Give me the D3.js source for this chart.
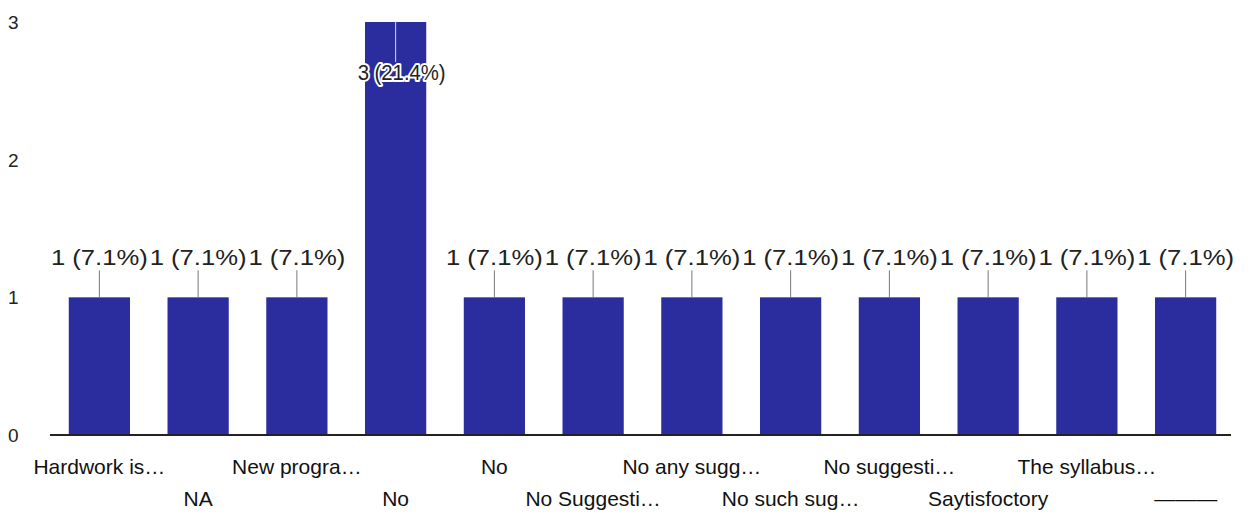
<!DOCTYPE html>
<html>
<head>
<meta charset="utf-8">
<script src="https://cdn.jsdelivr.net/npm/d3@7"></script>
<style>
  body { margin: 0; background: #ffffff; }
  svg { display: block; font-family: "Liberation Sans", Arial, sans-serif; }
  .tick-label { font-size: 19px; fill: #222; }
  .cat-label { font-size: 21px; fill: #111; }
  .value-label { font-size: 22px; fill: #222; }
</style>
</head>
<body>
<div id="chart"></div>
<script>
// responses per answer
const categories = [
    'Hardwork is…', 'NA', 'New progra…', 'No', 'No', 'No Suggesti…',
    'No any sugg…', 'No such sug…', 'No suggesti…', 'Saytisfoctory', 'The syllabus…', '———'
];
const counts = [1, 1, 1, 3, 1, 1, 1, 1, 1, 1, 1, 1];
const percents = ['7.1%', '7.1%', '7.1%', '21.4%', '7.1%', '7.1%', '7.1%', '7.1%', '7.1%', '7.1%', '7.1%', '7.1%'];
const yTicks = [0, 1, 2, 3];

const width = 1251;
const height = 518;
const margin = { top: 22, right: 16, bottom: 83, left: 50 };
const barColor = '#2b2c9e';

const svg = d3.select('#chart')
    .append('svg')
    .attr('width', width)
    .attr('height', height);

const x = d3.scaleBand()
    .domain(d3.range(categories.length))
    .range([margin.left, width - margin.right])
    .paddingInner(0.38)
    .paddingOuter(0.19);

const y = d3.scaleLinear()
    .domain([0, 3])
    .range([height - margin.bottom, margin.top]);

// y tick labels, no axis line
svg.append('g')
    .selectAll('text')
    .data(yTicks)
    .enter()
    .append('text')
    .attr('class', 'tick-label')
    .attr('x', 8)
    .attr('y', (d) => y(d) + 7)
    .text((d) => d);

// bars
svg.append('g')
    .selectAll('rect')
    .data(counts)
    .enter()
    .append('rect')
    .attr('x', (d, i) => x(i))
    .attr('y', (d) => y(d))
    .attr('width', x.bandwidth())
    .attr('height', (d) => y(0) - y(d))
    .attr('fill', barColor);

// baseline
svg.append('line')
    .attr('x1', margin.left)
    .attr('x2', width - margin.right - 4)
    .attr('y1', y(0))
    .attr('y2', y(0))
    .attr('stroke', '#222')
    .attr('stroke-width', 2);

// value labels with leader lines
const labels = svg.append('g');
counts.forEach((d, i) => {
    const cx = x(i) + x.bandwidth() / 2;
    const inside = d === d3.max(counts);
    const ly = inside ? y(d) + 58 : y(d) - 32;
    const text = `${d} (${percents[i]})`;
    const len = inside ? 88 : 97;

    if (inside) {
        labels.append('line')
            .attr('x1', cx).attr('x2', cx)
            .attr('y1', y(d)).attr('y2', ly - 18)
            .attr('stroke', '#d8d8e8')
            .attr('stroke-width', 1);
        labels.append('text')
            .attr('class', 'value-label')
            .attr('x', cx + 6)
            .attr('y', ly)
            .attr('text-anchor', 'middle')
            .attr('textLength', len)
            .attr('lengthAdjust', 'spacingAndGlyphs')
            .attr('stroke', '#ffffff')
            .attr('stroke-width', 4)
            .attr('stroke-linejoin', 'round')
            .text(text);
    } else {
        labels.append('line')
            .attr('x1', cx).attr('x2', cx)
            .attr('y1', ly + 5).attr('y2', y(d))
            .attr('stroke', '#777')
            .attr('stroke-width', 1);
    }

    labels.append('text')
        .attr('class', 'value-label')
        .attr('x', inside ? cx + 6 : cx)
        .attr('y', ly)
        .attr('text-anchor', 'middle')
        .attr('textLength', len)
        .attr('lengthAdjust', 'spacingAndGlyphs')
        .text(text);
});

// category labels in two staggered rows
svg.append('g')
    .selectAll('text')
    .data(categories)
    .enter()
    .append('text')
    .attr('class', 'cat-label')
    .attr('x', (d, i) => x(i) + x.bandwidth() / 2)
    .attr('y', (d, i) => (i % 2 === 0 ? y(0) + 39 : y(0) + 71))
    .attr('text-anchor', 'middle')
    .text((d) => d);
</script>
</body>
</html>
